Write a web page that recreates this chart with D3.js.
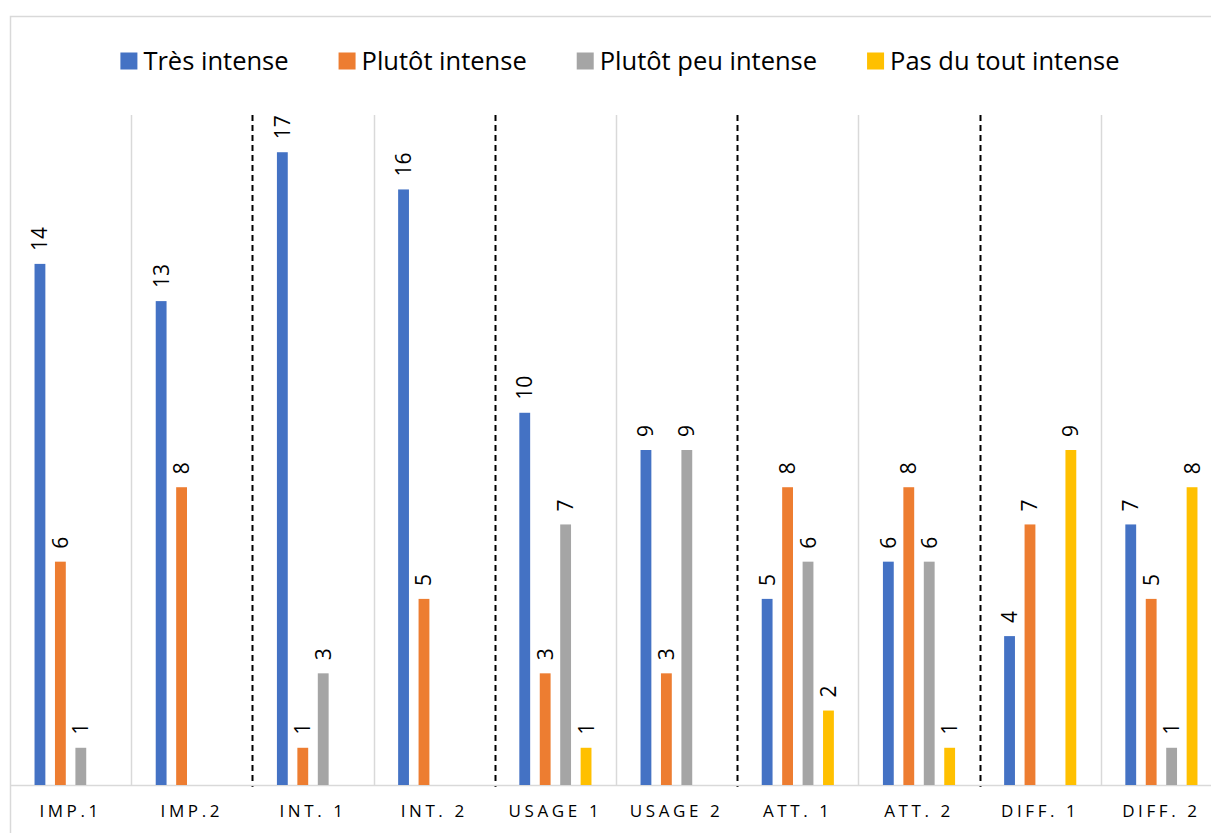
<!DOCTYPE html>
<html>
<head>
<meta charset="utf-8">
<script src="https://cdn.jsdelivr.net/npm/d3@7"></script>
<style>
  body { margin: 0; background: #fff; }
  svg { display: block; font-family: "Open Sans", sans-serif; }
</style>
</head>
<body>
<div id="chart"></div>
<script>
// categories and series
const categories = ["IMP.1", "IMP.2", "INT. 1", "INT. 2", "USAGE 1", "USAGE 2", "ATT. 1", "ATT. 2", "DIFF. 1", "DIFF. 2"];
const seriesNames = ["Très intense", "Plutôt intense", "Plutôt peu intense", "Pas du tout intense"];
const seriesColors = ["#4472c4", "#ed7d31", "#a5a5a5", "#ffc000"];
const tresIntense = [14, 13, 17, 16, 10, 9, 5, 6, 4, 7];
const plutotIntense = [6, 8, 1, 5, 3, 3, 8, 8, 7, 5];
const plutotPeu = [1, 0, 3, 0, 7, 9, 6, 6, 0, 1];
const pasDuTout = [0, 0, 0, 0, 1, 0, 2, 1, 9, 8];
const yDomain = [0, 18];
// dashed separators come after these categories
const dashedAfter = ["IMP.2", "INT. 2", "USAGE 2", "ATT. 2"];

const seriesValues = [tresIntense, plutotIntense, plutotPeu, pasDuTout];

const W = 1211, H = 833;
const margin = {top: 115, left: 10, bottom: 48};
const plotW = 1212, plotH = H - margin.top - margin.bottom;

const svg = d3.select("#chart").append("svg")
    .attr("width", W)
    .attr("height", H);

// chart area border (top + left visible)
svg.append("rect")
    .attr("x", 10.5).attr("y", 16.5)
    .attr("width", 1240).attr("height", 900)
    .attr("fill", "none")
    .attr("stroke", "#d9d9d9")
    .attr("stroke-width", 1.5);

const g = svg.append("g")
    .attr("transform", `translate(${margin.left},${margin.top})`);

const x = d3.scaleBand()
    .domain(categories)
    .range([0, plotW]);

const xInner = d3.scaleBand()
    .domain(seriesNames)
    .range([0, x.bandwidth()])
    .paddingInner(0.47)
    .paddingOuter(1.2);

const y = d3.scaleLinear()
    .domain(yDomain)
    .range([plotH, 0]);

// vertical separators
categories.forEach((c, i) => {
    if (i === 0) return;
    const dashed = dashedAfter.includes(categories[i - 1]);
    g.append("line")
        .attr("x1", Math.round(x(c)) + 0.5).attr("x2", Math.round(x(c)) + 0.5)
        .attr("y1", 0)
        .attr("y2", dashed ? plotH + 2 : plotH)
        .attr("stroke", dashed ? "#000" : "#d9d9d9")
        .attr("stroke-width", dashed ? 2 : 1.5)
        .attr("stroke-dasharray", dashed ? "6,4" : null);
});

// baseline
g.append("line")
    .attr("x1", 0).attr("x2", plotW)
    .attr("y1", plotH + 0.5).attr("y2", plotH + 0.5)
    .attr("stroke", "#d9d9d9")
    .attr("stroke-width", 1.5);

// bars
const rows = [];
categories.forEach((c, i) => {
    seriesNames.forEach((s, j) => {
        rows.push({cat: c, series: s, color: seriesColors[j], value: seriesValues[j][i]});
    });
});
const shown = rows.filter(d => d.value > 0);

g.selectAll(".bar")
    .data(shown)
    .enter().append("rect")
    .attr("class", "bar")
    .attr("x", d => x(d.cat) + xInner(d.series))
    .attr("width", xInner.bandwidth())
    .attr("y", d => y(d.value))
    .attr("height", d => plotH - y(d.value))
    .attr("fill", d => d.color);

// value labels, rotated
g.selectAll(".val")
    .data(shown)
    .enter().append("text")
    .attr("class", "val")
    .attr("transform", d => `translate(${x(d.cat) + xInner(d.series) + xInner.bandwidth() / 2 + 7.5},${y(d.value) - 13}) rotate(-90)`)
    .attr("text-anchor", "start")
    .attr("font-size", 21)
    .attr("fill", "#000")
    .text(d => d.value);

// category labels
const xAxis = g.append("g")
    .attr("transform", `translate(0,${plotH})`)
    .call(d3.axisBottom(x).tickSize(0).tickPadding(20));
xAxis.select(".domain").remove();
xAxis.selectAll("text")
    .attr("font-size", 17)
    .attr("font-family", "Open Sans, sans-serif")
    .attr("fill", "#000")
    .attr("letter-spacing", "3.6px");

// legend
const legend = svg.append("g");
const items = legend.selectAll(".item")
    .data(seriesNames)
    .enter().append("g")
    .attr("class", "item");
items.append("rect")
    .attr("width", 17).attr("height", 17)
    .attr("y", -8.5)
    .attr("fill", (d, i) => seriesColors[i]);
items.append("text")
    .attr("x", 23)
    .attr("dy", "0.35em")
    .attr("font-size", 25.5)
    .attr("fill", "#000")
    .text(d => d);

let cursor = 0;
items.each(function () {
    const w = d3.select(this).select("text").node().getComputedTextLength();
    d3.select(this).attr("transform", `translate(${cursor},0)`);
    cursor += 23 + w + 50;
});
const total = cursor - 50;
legend.attr("transform", `translate(${620 - total / 2},61)`);
</script>
</body>
</html>
